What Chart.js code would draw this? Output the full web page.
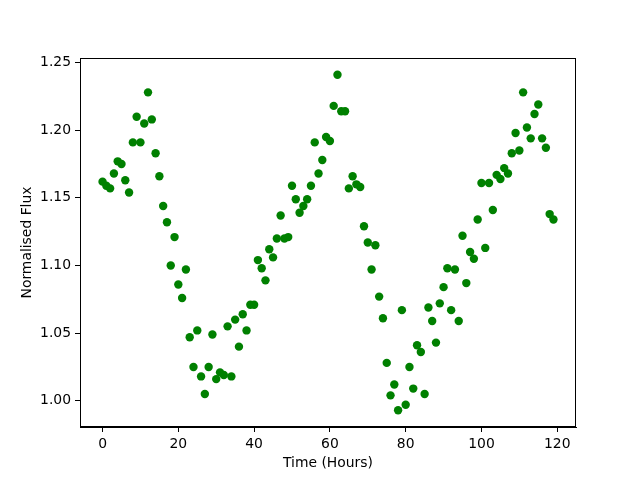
<!DOCTYPE html>
<html>
<head>
<meta charset="utf-8">
<script src="https://cdn.jsdelivr.net/npm/chart.js@4.4.0/dist/chart.umd.min.js"></script>
<style>
  html, body { margin: 0; padding: 0; background: #fff; }
  canvas { display: block; }
</style>
</head>
<body>
<canvas id="flux-chart" width="640" height="480"></canvas>
<script>
// Light curve: normalised flux sampled every hour
const hours = [
  0, 1, 2, 3, 4, 5, 6, 7, 8, 9, 10, 11, 12, 13, 14, 15, 16, 17, 18, 19,
  20, 21, 22, 23, 24, 25, 26, 27, 28, 29, 30, 31, 32, 33, 34, 35, 36, 37, 38, 39,
  40, 41, 42, 43, 44, 45, 46, 47, 48, 49, 50, 51, 52, 53, 54, 55, 56, 57, 58, 59,
  60, 61, 62, 63, 64, 65, 66, 67, 68, 69, 70, 71, 72, 73, 74, 75, 76, 77, 78, 79,
  80, 81, 82, 83, 84, 85, 86, 87, 88, 89, 90, 91, 92, 93, 94, 95, 96, 97, 98, 99,
  100, 101, 102, 103, 104, 105, 106, 107, 108, 109, 110, 111, 112, 113, 114, 115, 116, 117, 118, 119,
];

const flux = [
  1.162, 1.159, 1.157, 1.168, 1.177, 1.175, 1.163, 1.154, 1.191, 1.210,
  1.191, 1.205, 1.228, 1.208, 1.183, 1.166, 1.144, 1.132, 1.100, 1.121,
  1.086, 1.076, 1.097, 1.047, 1.025, 1.052, 1.018, 1.005, 1.025, 1.049,
  1.016, 1.021, 1.019, 1.055, 1.018, 1.060, 1.040, 1.064, 1.052, 1.071,
  1.071, 1.104, 1.098, 1.089, 1.112, 1.106, 1.120, 1.137, 1.120, 1.121,
  1.159, 1.149, 1.139, 1.144, 1.149, 1.159, 1.191, 1.168, 1.178, 1.195,
  1.192, 1.218, 1.241, 1.214, 1.214, 1.157, 1.166, 1.160, 1.158, 1.129,
  1.117, 1.097, 1.115, 1.077, 1.061, 1.028, 1.004, 1.012, 0.993, 1.067,
  0.997, 1.025, 1.009, 1.041, 1.036, 1.005, 1.069, 1.059, 1.043, 1.072,
  1.084, 1.098, 1.067, 1.097, 1.059, 1.122, 1.087, 1.110, 1.105, 1.134,
  1.161, 1.113, 1.161, 1.141, 1.167, 1.164, 1.172, 1.168, 1.183, 1.198,
  1.185, 1.228, 1.202, 1.194, 1.212, 1.219, 1.194, 1.187, 1.138, 1.134,
];

const xTicks = [0, 20, 40, 60, 80, 100, 120];
const yTicks = [1.00, 1.05, 1.10, 1.15, 1.20, 1.25];

const FONT = { family: "'DejaVu Sans', sans-serif", size: 13.9 };

// matplotlib-style closed frame around the plot area
const framePlugin = {
  id: "frame",
  afterDatasetsDraw(chart) {
    const { ctx, chartArea: a } = chart;
    ctx.save();
    ctx.strokeStyle = "#000";
    ctx.lineWidth = 1;
    ctx.strokeRect(a.left + 0.5, a.top + 0.5, a.right - a.left - 1, a.bottom - a.top - 1);
    ctx.restore();
  },
};

function axis(ticks, fmt, size, title, titlePad) {
  return {
    type: "linear",
    afterBuildTicks: (s) => { s.ticks = ticks.map((v) => ({ value: v })); },
    afterFit: (s) => { if (s.isHorizontal()) s.height = size; else s.width = size; },
    grid: { display: true, drawOnChartArea: false, drawTicks: true, tickLength: 5, color: "#000" },
    border: { display: true, color: "#000" },
    ticks: { color: "#000", font: FONT, padding: 4, callback: fmt },
    title: { display: true, text: title, color: "#000", font: FONT, padding: titlePad },
  };
}

const points = hours.map((h, i) => ({ x: h, y: flux[i] }));

new Chart(document.getElementById("flux-chart").getContext("2d"), {
  type: "scatter",
  data: {
    datasets: [{
      data: points,
      backgroundColor: "#008000",
      borderColor: "#008000",
      pointRadius: 4.2,
      pointHoverRadius: 4.2,
      borderWidth: 0,
    }],
  },
  options: {
    responsive: false,
    animation: false,
    layout: { padding: { left: 0, right: 64, top: 58, bottom: 0 } },
    plugins: { legend: { display: false }, tooltip: { enabled: false } },
    scales: {
      x: {
        ...axis(xTicks, (v) => String(v), 53, "Time (Hours)", { top: 4, bottom: 8.6 }),
        min: -5.95, max: 124.95,
      },
      y: {
        ...axis(yTicks, (v) => v.toFixed(2), 80, "Normalised Flux", { top: 18.6, bottom: 4 }),
        min: 0.9806, max: 1.2534,
      },
    },
  },
  plugins: [framePlugin],
});
</script>
</body>
</html>
